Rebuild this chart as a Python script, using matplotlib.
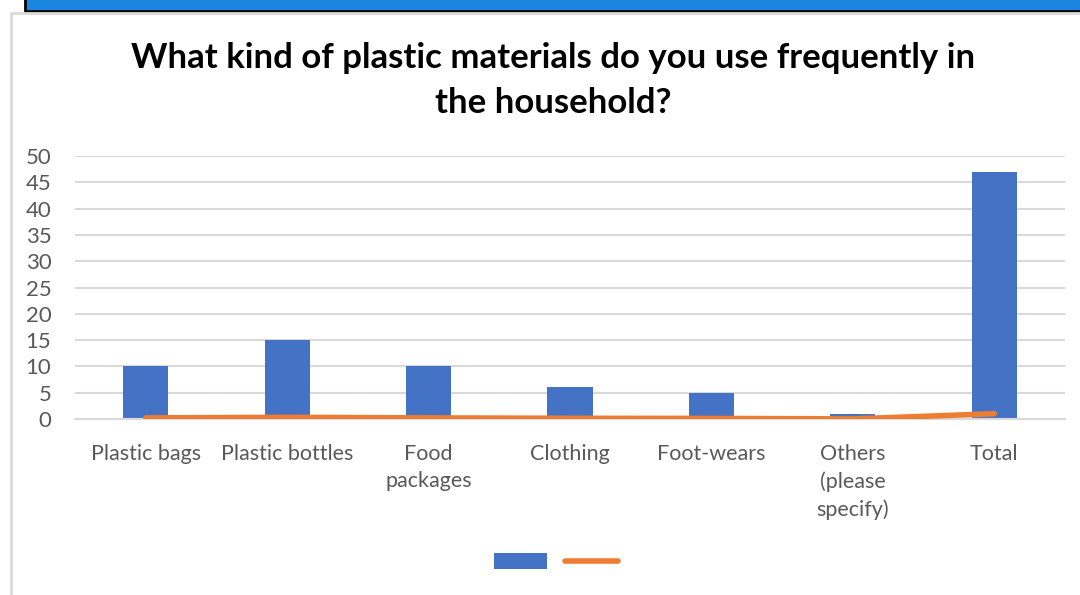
import matplotlib
matplotlib.use("Agg")
import matplotlib.pyplot as plt
from matplotlib.patches import Rectangle
from matplotlib.lines import Line2D

plt.rcParams["font.family"] = ["Lato", "DejaVu Sans"]

categories = ["Plastic bags", "Plastic bottles", "Food\npackages", "Clothing",
              "Foot-wears", "Others\n(please\nspecify)", "Total"]
counts = [10, 15, 10, 6, 5, 1, 47]
shares = [0.21, 0.32, 0.21, 0.13, 0.11, 0.02, 1.0]

bar_color = "#4472c4"
line_color = "#ed7d31"
text_color = "#595959"

fig = plt.figure(figsize=(10.8, 5.95), dpi=100)

# window strip and frame around the chart
fig.patches.append(Rectangle((26 / 1080, 1 - 11 / 595), 1, 11 / 595,
                             transform=fig.transFigure, facecolor="#1a86e2",
                             edgecolor="none", zorder=0))
fig.lines.append(Line2D([25 / 1080, 25 / 1080, 1], [1, 1 - 11 / 595, 1 - 11 / 595],
                        transform=fig.transFigure, color="black", lw=2))
fig.lines.append(Line2D([11 / 1080, 11 / 1080, 1], [0, 1 - 13 / 595, 1 - 13 / 595],
                        transform=fig.transFigure, color="#d9d9d9", lw=2))

ax = fig.add_axes([75 / 1080, 1 - 419 / 595, 990 / 1080, 263 / 595])
x = range(len(categories))
bars = ax.bar(x, counts, width=0.32, color=bar_color, zorder=2)
line, = ax.plot(x, shares, color=line_color, lw=4, solid_capstyle="round", zorder=3)

ax.set_xlim(-0.5, len(categories) - 0.5)
ax.set_ylim(0, 50)
ax.set_yticks(range(0, 51, 5))
ax.set_xticks(list(x))
ax.set_xticklabels(categories, linespacing=1.45)
ax.tick_params(axis="both", length=0, labelcolor=text_color)
ax.tick_params(axis="x", labelsize=15.5, pad=18)
ax.tick_params(axis="y", labelsize=16, pad=17)
ax.grid(axis="y", color="#d9d9d9", lw=1.5, zorder=0)
for side in ["top", "right", "left"]:
    ax.spines[side].set_visible(False)
ax.spines["bottom"].set_color("#d9d9d9")
ax.spines["bottom"].set_linewidth(1.5)

fig.text(553 / 1080, 1 - 58 / 595, "What kind of plastic materials do you use frequently in",
         ha="center", va="center", fontsize=25, fontweight="bold", color="black")
fig.text(553 / 1080, 1 - 103 / 595, "the household?",
         ha="center", va="center", fontsize=25, fontweight="bold", color="black")

fig.legend([bars, line], ["", ""], loc="center", bbox_to_anchor=(556 / 1080, 1 - 562 / 595),
           ncol=2, frameon=False, handlelength=2.75, handleheight=0.9,
           handletextpad=0, columnspacing=0.9, fontsize=14)

fig.savefig("out.png", dpi=100)
